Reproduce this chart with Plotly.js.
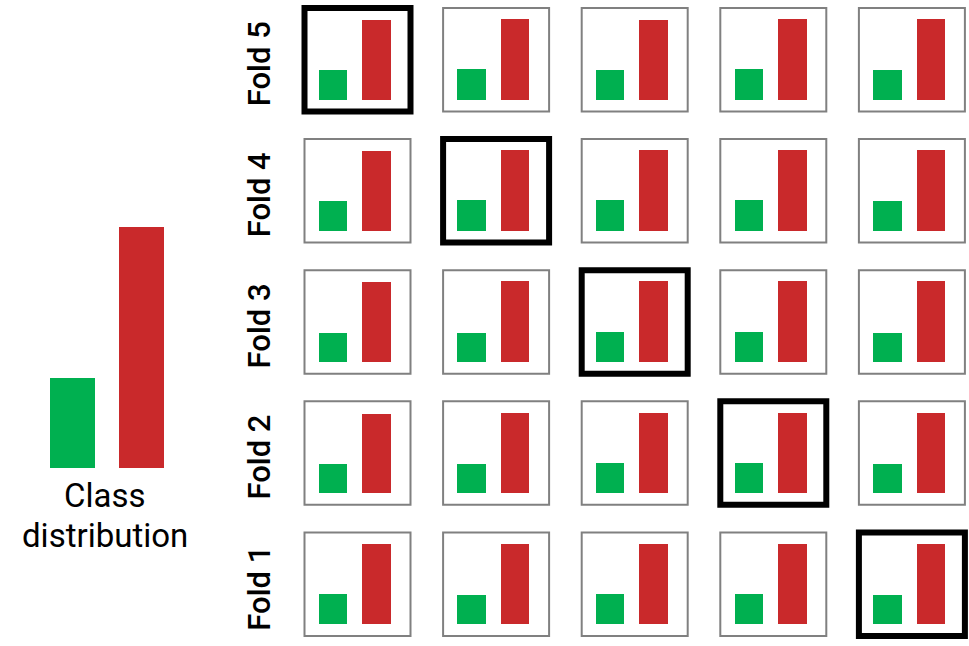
<!DOCTYPE html>
<html>
<head>
<meta charset="utf-8">
<script src="https://cdn.plot.ly/plotly-3.0.1.min.js"></script>
<style>html,body{margin:0;padding:0;background:#fff;}#chart{width:969px;height:646px;}</style>
</head>
<body>
<div id="chart"></div>
<script>
// ---- data ----
const classNames = ["Minority", "Majority"];
const overallDist = [27.2, 72.8];            // class distribution (%)
const foldLabels = ["Fold 5", "Fold 4", "Fold 3", "Fold 2", "Fold 1"]; // top to bottom
// per fold (row, top to bottom) and split (column, left to right)
const foldGreen = [
  [27.2, 28.0, 27.2, 28.0, 27.2],
  [26.9, 27.8, 27.8, 27.8, 26.9],
  [26.9, 26.9, 27.8, 27.8, 26.9],
  [26.9, 26.9, 27.8, 27.8, 26.9],
  [27.8, 26.9, 27.8, 27.8, 26.9]
];
const foldRed = [
  [72.5, 73.3, 72.5, 73.3, 73.3],
  [72.3, 73.2, 73.2, 73.2, 73.2],
  [72.3, 73.2, 73.2, 73.2, 73.2],
  [72.3, 73.2, 73.2, 73.2, 73.2],
  [73.2, 73.2, 73.2, 73.2, 73.2]
];
const bottomLabel = ["Class", "distribution"];

// ---- styles ----
const GREEN = "#00B050", RED = "#C9292B", GRAY = "#808080";
const W = 969, H = 646;
const FONT = "Roboto, 'Noto Sans', sans-serif";

const traces = [];
const layout = {
  width: W, height: H,
  margin: {l: 0, r: 0, t: 0, b: 0},
  paper_bgcolor: "#fff", plot_bgcolor: "rgba(0,0,0,0)",
  showlegend: false, bargap: 0,
  shapes: [], annotations: []
};
const px2x = p => p / W;
const px2y = p => 1 - p / H;
function axKey(n, a) { return a + "axis" + (n > 1 ? n : ""); }
function hidden(extra) {
  return Object.assign({visible: false, showgrid: false, zeroline: false, fixedrange: true}, extra);
}

// overall class distribution chart
let n = 1;
traces.push({
  type: "bar", x: [0, 1], y: overallDist, width: 0.652,
  marker: {color: [GREEN, RED]}, text: classNames, textposition: "none",
  hoverinfo: "y", xaxis: "x", yaxis: "y"
});
layout[axKey(n, "x")] = hidden({domain: [px2x(30), px2x(185)], range: [-0.616, 1.630]});
layout[axKey(n, "y")] = hidden({domain: [px2y(468), px2y(200)], range: [0, 80.96]});

// grid of folds
const colCenter = c => 357.5 + 138.6 * c;
const rowTop = r => 8 + 131.1 * r;
const boxW = 106, boxH = 103.5;
for (let r = 0; r < 5; r++) {
  for (let c = 0; c < 5; c++) {
    n++;
    const xs = "x" + n, ys = "y" + n;
    traces.push({
      type: "bar", x: [0, 1], y: [foldGreen[r][c], foldRed[r][c]], width: 0.655,
      marker: {color: [GREEN, RED]}, text: classNames, textposition: "none",
      hoverinfo: "y", xaxis: xs, yaxis: ys
    });
    const cx = colCenter(c), t = rowTop(r);
    layout[axKey(n, "x")] = hidden({domain: [px2x(cx - boxW / 2), px2x(cx + boxW / 2)], range: [-0.655, 1.782]});
    layout[axKey(n, "y")] = hidden({domain: [px2y(t + boxH), px2y(t)], range: [-10.43, 83.41]});
    const test = (r === c);
    layout.shapes.push({
      type: "rect", xref: xs + " domain", yref: ys + " domain",
      x0: 0, x1: 1, y0: 0, y1: 1,
      line: {color: test ? "#000" : GRAY, width: test ? 6 : 2},
      fillcolor: "rgba(0,0,0,0)"
    });
  }
  layout.annotations.push({
    xref: "paper", yref: "paper", x: px2x(259.5), y: px2y(rowTop(r) + boxH / 2 + 4),
    text: foldLabels[r], showarrow: false, textangle: -90,
    xanchor: "center", yanchor: "middle",
    font: {family: FONT, size: 31, color: "#000", weight: 500}
  });
}

layout.annotations.push({
  xref: "paper", yref: "paper", x: px2x(105), y: px2y(495),
  text: bottomLabel[0], showarrow: false, xanchor: "center", yanchor: "middle",
  font: {family: FONT, size: 33, color: "#000"}
});
layout.annotations.push({
  xref: "paper", yref: "paper", x: px2x(105), y: px2y(535),
  text: bottomLabel[1], showarrow: false, xanchor: "center", yanchor: "middle",
  font: {family: FONT, size: 33, color: "#000"}
});

Plotly.newPlot("chart", traces, layout, {staticPlot: true, displayModeBar: false});
</script>
</body>
</html>
